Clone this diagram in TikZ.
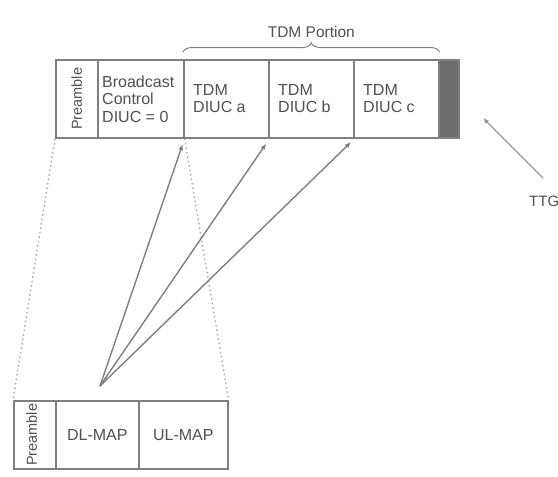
\documentclass[tikz,border=0pt]{standalone}
\usepackage{fontspec}
\setmainfont{Liberation Sans}
\usetikzlibrary{arrows.meta,decorations.pathreplacing,calc}
\definecolor{frame}{HTML}{7F7F7F}
\definecolor{txt}{HTML}{505050}
\definecolor{tail}{HTML}{6E6E6E}
\begin{document}
\begin{tikzpicture}[x=1pt,y=-1pt,
  cell/.style={draw=frame,line width=1.6pt,minimum height=#1,inner sep=0pt,anchor=north west},
  lbl/.style={anchor=west,align=left,text=txt,font=\fontsize{16}{17.5}\selectfont,inner sep=0pt},
  vlbl/.style={rotate=90,text=txt,font=\fontsize{14.5}{16}\selectfont,inner sep=0pt},
  link/.style={draw=frame,line width=1.4pt,-{Latex[length=6pt,width=5pt,fill=black]}},
  guide/.style={draw=frame!70,line width=1.3pt,dash pattern=on 1.5pt off 3pt}]
\useasboundingbox (0,0) rectangle (558,477);

% downlink subframe
\node[cell=78pt,minimum width=42pt] (pre1) at (55,59) {};
\node[cell=78pt,minimum width=86pt] (bc) at (97,59) {};
\node[cell=78pt,minimum width=85pt] (ta) at (183,59) {};
\node[cell=78pt,minimum width=85pt] (tb) at (268,59) {};
\node[cell=78pt,minimum width=85pt] (tc) at (353,59) {};
\node[cell=78pt,minimum width=20pt,fill=tail] (gap) at (438,59) {};

\node[vlbl] (pre1t) at (pre1.center) {Preamble};
\node[lbl] (bct) at ([xshift=5pt]bc.west) {Broadcast\\Control\\DIUC = 0};
\node[lbl] (tat) at ([xshift=10pt]ta.west) {TDM\\DIUC a};
\node[lbl] (tbt) at ([xshift=10pt]tb.west) {TDM\\DIUC b};
\node[lbl] (tct) at ([xshift=10pt]tc.west) {TDM\\DIUC c};

% TDM portion brace
\draw[frame,line width=1pt,decorate,decoration={brace,amplitude=9pt}]
  ([yshift=7pt]ta.north west) -- ([yshift=7pt]tc.north east)
  node[midway,above=14pt,text=txt,font=\fontsize{15.5}{17}\selectfont,inner sep=0pt] (portion) {TDM Portion};

% DL/UL map burst
\node[cell=68pt,minimum width=42pt] (pre2) at (13,400) {};
\node[cell=68pt,minimum width=83pt] (dl) at (55,400) {};
\node[cell=68pt,minimum width=89pt] (ul) at (138,400) {};
\node[vlbl] (pre2t) at ([xshift=-3pt]pre2.center) {Preamble};
\node[text=txt,font=\fontsize{16}{17}\selectfont,inner sep=0pt] (dlt) at (dl.center) {DL-MAP};
\node[text=txt,font=\fontsize{16}{17}\selectfont,inner sep=0pt] (ult) at (ul.center) {UL-MAP};

% expansion guides
\draw[guide] (pre1.south west) -- (pre2.north west);
\draw[guide] (bc.south east) -- (ul.north east);

% map pointers
\coordinate (src) at (100,386);
\draw[link,shorten >=6pt] (src) -- (bc.south east);
\draw[link,shorten >=6pt] (src) -- (ta.south east);
\draw[link,shorten >=5pt] (src) -- (tb.south east);

% TTG callout
\node[anchor=west,text=txt,font=\fontsize{15}{17}\selectfont,inner sep=0pt] (ttg) at (529,201) {TTG};
\coordinate (ttgtail) at (543,178);
\coordinate (ttghead) at (483,118);
\draw[draw=frame!80,line width=1.4pt,-{Latex[length=6pt,width=5pt,fill=black]}] (ttgtail) -- (ttghead);
\end{tikzpicture}
\end{document}
